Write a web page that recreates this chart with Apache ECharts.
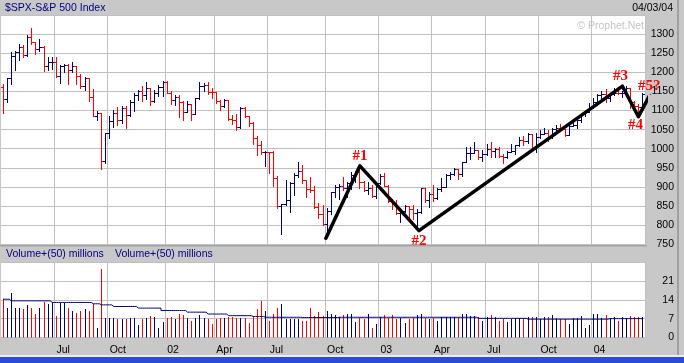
<!DOCTYPE html>
<html><head><meta charset="utf-8">
<script src="https://cdn.jsdelivr.net/npm/echarts@6.0.0/dist/echarts.min.js"></script>
<style>html,body{margin:0;padding:0;background:#c8c8c8;}#c{width:684px;height:363px;}</style>
</head><body><div id="c"></div>
<script>
// ---- categories: Monday of each weekly bar ----
const weeks = [
'2001-04-02','2001-04-09','2001-04-16','2001-04-23','2001-04-30','2001-05-07','2001-05-14','2001-05-21','2001-05-28',
'2001-06-04','2001-06-11','2001-06-18','2001-06-25','2001-07-02','2001-07-09','2001-07-16','2001-07-23','2001-07-30',
'2001-08-06','2001-08-13','2001-08-20','2001-08-27','2001-09-03','2001-09-10','2001-09-17','2001-09-24',
'2001-10-01','2001-10-08','2001-10-15','2001-10-22','2001-10-29','2001-11-05','2001-11-12','2001-11-19','2001-11-26',
'2001-12-03','2001-12-10','2001-12-17','2001-12-24','2001-12-31',
'2002-01-07','2002-01-14','2002-01-21','2002-01-28','2002-02-04','2002-02-11','2002-02-18','2002-02-25',
'2002-03-04','2002-03-11','2002-03-18','2002-03-25','2002-04-01','2002-04-08','2002-04-15','2002-04-22','2002-04-29',
'2002-05-06','2002-05-13','2002-05-20','2002-05-27','2002-06-03','2002-06-10','2002-06-17','2002-06-24',
'2002-07-01','2002-07-08','2002-07-15','2002-07-22','2002-07-29','2002-08-05','2002-08-12','2002-08-19','2002-08-26',
'2002-09-02','2002-09-09','2002-09-16','2002-09-23','2002-09-30','2002-10-07','2002-10-14','2002-10-21','2002-10-28',
'2002-11-04','2002-11-11','2002-11-18','2002-11-25','2002-12-02','2002-12-09','2002-12-16','2002-12-23','2002-12-30',
'2003-01-06','2003-01-13','2003-01-20','2003-01-27','2003-02-03','2003-02-10','2003-02-17','2003-02-24',
'2003-03-03','2003-03-10','2003-03-17','2003-03-24','2003-03-31','2003-04-07','2003-04-14','2003-04-21','2003-04-28',
'2003-05-05','2003-05-12','2003-05-19','2003-05-26','2003-06-02','2003-06-09','2003-06-16','2003-06-23','2003-06-30',
'2003-07-07','2003-07-14','2003-07-21','2003-07-28','2003-08-04','2003-08-11','2003-08-18','2003-08-25',
'2003-09-01','2003-09-08','2003-09-15','2003-09-22','2003-09-29','2003-10-06','2003-10-13','2003-10-20','2003-10-27',
'2003-11-03','2003-11-10','2003-11-17','2003-11-24','2003-12-01','2003-12-08','2003-12-15','2003-12-22','2003-12-29',
'2004-01-05','2004-01-12','2004-01-19','2004-01-26','2004-02-02','2004-02-09','2004-02-16','2004-02-23',
'2004-03-01','2004-03-08','2004-03-15','2004-03-22','2004-03-29'];

// ---- weekly OHLC ----
const opens = [1160.3,1128.4,1183.5,1243.0,1253.1,1266.6,1245.7,1292.0,1277.9,1260.7,
1265.0,1214.4,1225.4,1226.4,1190.6,1215.7,1217.0,1205.8,1214.4,1190.2,
1162.0,1184.9,1133.6,1085.8,1092.5,965.8,1040.9,1071.4,1091.7,1073.5,
1104.6,1087.2,1120.3,1138.7,1150.3,1139.5,1158.3,1123.1,1144.9,1161.0,
1172.5,1145.6,1127.6,1133.3,1122.2,1096.2,1116.5,1089.8,1131.8,1164.3,
1166.2,1148.7,1147.4,1122.7,1111.0,1125.2,1076.3,1073.4,1055.0,1106.6,
1083.8,1067.1,1027.5,1007.3,989.1,989.8,989.0,921.4,847.8,852.8,
864.2,908.6,928.8,940.9,916.1,893.9,889.8,845.4,827.4,800.6,
835.3,884.4,897.7,901.0,894.7,909.8,930.6,936.3,912.2,889.5,
895.8,875.4,908.6,927.6,901.8,861.4,855.7,829.7,834.9,848.2,
841.2,828.9,833.3,895.8,863.5,878.9,868.3,893.6,898.8,930.1,
933.4,944.3,933.2,963.6,987.8,988.6,995.7,976.2,985.7,998.1,
993.3,998.7,980.2,977.6,990.7,993.1,1008.0,1021.4,1018.6,1036.3,
996.9,1029.9,1038.1,1039.3,1028.9,1050.7,1053.2,1050.4,1035.3,1058.2,
1061.5,1074.1,1088.7,1095.9,1108.5,1121.9,1139.8,1141.6,1131.1,1142.8,
1145.8,1144.1,1144.9,1156.9,1120.6,1109.8,1108.1];
const highs = [1169.5,1184.0,1253.7,1255.0,1272.8,1270.0,1296.5,1315.9,1278.0,1287.0,
1267.0,1240.0,1240.0,1240.0,1219.0,1222.0,1222.0,1226.3,1215.0,1194.0,
1186.0,1185.0,1155.0,1096.9,1092.5,1040.9,1084.1,1099.2,1108.0,1112.0,
1110.6,1126.0,1144.0,1152.0,1163.4,1173.0,1158.3,1152.0,1165.0,1176.5,
1176.5,1150.0,1139.0,1139.0,1123.0,1124.0,1117.0,1132.0,1173.0,1170.0,
1174.0,1158.0,1147.8,1126.0,1130.0,1126.0,1088.0,1089.0,1107.0,1108.0,
1085.0,1070.0,1033.0,1018.0,992.0,990.0,993.6,926.0,854.0,916.0,
912.0,935.0,965.0,955.0,916.1,924.0,902.0,856.0,852.0,844.0,
886.0,903.0,905.0,925.0,911.0,938.0,941.0,954.3,915.0,911.0,
903.0,911.0,932.0,935.0,904.0,868.0,864.0,843.0,852.0,848.2,
852.0,841.0,896.0,895.8,885.0,904.0,896.0,922.0,932.0,937.0,
949.0,944.3,965.0,1002.0,1002.0,1015.0,996.0,995.0,1010.0,1015.0,
1000.0,1004.0,985.0,993.0,1011.0,1008.0,1030.0,1032.0,1040.0,1036.5,
1040.0,1048.0,1052.0,1048.0,1054.0,1062.0,1063.0,1050.4,1060.0,1074.0,
1075.0,1091.0,1098.0,1118.0,1131.0,1141.0,1150.0,1155.4,1143.0,1158.9,
1158.9,1151.0,1163.2,1159.0,1125.0,1115.0,1144.0];
const lows = [1092.0,1121.0,1167.4,1205.0,1232.0,1239.0,1241.0,1273.0,1246.0,1255.0,
1203.0,1205.0,1207.0,1188.0,1171.0,1199.0,1168.0,1200.0,1169.0,1157.0,
1153.0,1124.0,1085.0,1073.2,944.8,962.5,1026.8,1056.4,1061.0,1066.0,
1054.3,1084.0,1098.0,1126.0,1125.0,1129.0,1114.5,1121.0,1137.0,1136.2,
1144.0,1117.0,1114.0,1081.7,1074.0,1094.0,1074.0,1089.0,1130.0,1151.0,
1143.0,1131.0,1118.0,1099.0,1108.0,1075.0,1063.0,1048.0,1054.0,1082.0,
1058.0,1012.0,981.6,985.0,952.9,935.0,900.9,842.0,775.7,852.0,
833.4,876.0,925.0,910.0,872.0,884.0,843.0,817.0,798.0,768.6,
828.0,873.0,867.0,891.0,872.0,893.0,911.0,896.0,888.0,880.0,
873.0,869.0,905.0,900.0,860.0,840.0,827.0,806.3,832.0,818.0,
815.0,788.9,830.0,860.0,847.0,862.0,868.0,887.0,898.0,918.0,
929.0,918.0,927.0,963.0,972.0,988.0,972.0,967.0,983.0,978.0,
977.0,977.0,960.0,974.0,990.0,984.0,1005.0,1009.0,1013.0,996.0,
990.0,1027.0,1037.0,1019.0,1027.0,1046.0,1045.0,1031.0,1035.0,1058.0,
1053.0,1068.0,1084.0,1095.0,1106.0,1113.0,1133.0,1122.0,1124.0,1139.0,
1143.0,1134.0,1143.0,1105.0,1103.0,1087.2,1108.0];
const closes = [1128.4,1183.5,1243.0,1253.1,1266.6,1245.7,1292.0,1277.9,1260.7,1265.0,
1214.4,1225.4,1226.4,1190.6,1215.7,1217.0,1205.8,1214.4,1190.2,1162.0,
1184.9,1133.6,1085.8,1092.5,965.8,1040.9,1071.4,1091.7,1073.5,1104.6,
1087.2,1120.3,1138.7,1150.3,1139.5,1158.3,1123.1,1144.9,1161.0,1172.5,
1145.6,1127.6,1133.3,1122.2,1096.2,1116.5,1089.8,1131.8,1164.3,1166.2,
1148.7,1147.4,1122.7,1111.0,1125.2,1076.3,1073.4,1055.0,1106.6,1083.8,
1067.1,1027.5,1007.3,989.1,989.8,989.0,921.4,847.8,852.8,864.2,
908.6,928.8,940.9,916.1,893.9,889.8,845.4,827.4,800.6,835.3,
884.4,897.7,901.0,894.7,909.8,930.6,936.3,912.2,889.5,895.8,
875.4,908.6,927.6,901.8,861.4,855.7,829.7,834.9,848.2,841.2,
828.9,833.3,895.8,863.5,878.9,868.3,893.6,898.8,930.1,933.4,
944.3,933.2,963.6,987.8,988.6,995.7,976.2,985.7,998.1,993.3,
998.7,980.2,977.6,990.7,993.1,1008.0,1021.4,1018.6,1036.3,996.9,
1029.9,1038.1,1039.3,1028.9,1050.7,1053.2,1050.4,1035.3,1058.2,1061.5,
1074.1,1088.7,1095.9,1108.5,1121.9,1139.8,1141.6,1131.1,1142.8,1145.8,
1144.1,1144.9,1156.9,1120.6,1109.8,1108.1,1141.8];

// ---- weekly volume and its 50-week average ----
const volumes = [14.2,10.6,16.4,10.6,10.9,10.5,11.7,10.6,8.7,10.6,
13.0,12.1,13.0,7.8,12.7,12.7,10.9,9.6,8.9,9.7,
10.2,9.6,12.4,3.2,25.1,7.1,7.1,6.9,6.5,6.8,
6.5,6.9,6.9,4.3,6.5,7.0,7.8,7.5,3.5,5.5,
7.1,7.4,6.8,8.4,8.1,6.9,5.9,7.1,8.0,6.9,
6.5,5.0,6.5,7.0,7.0,7.3,7.3,7.0,7.0,7.0,
5.3,7.8,10.2,13.3,9.6,5.8,8.4,10.9,12.1,6.8,
6.8,6.8,6.8,5.8,5.8,10.9,7.8,9.2,7.8,9.6,
8.4,8.0,7.4,8.0,8.4,8.4,5.5,7.1,6.5,8.4,
3.4,5.0,7.4,8.0,7.1,8.0,6.5,7.1,5.3,6.5,
7.1,8.0,8.4,7.0,6.5,7.0,5.9,7.5,7.5,7.5,
7.5,7.5,8.7,8.7,7.8,7.8,7.5,5.9,7.5,8.0,
7.5,5.9,6.8,5.5,6.5,7.0,7.0,7.0,7.4,7.5,
7.5,6.5,7.5,7.5,8.0,7.0,6.5,6.5,4.7,7.0,
7.0,7.8,3.5,4.5,8.7,8.4,7.0,8.3,7.0,7.5,
6.1,7.5,7.0,7.8,7.5,7.5,7.5];
const volMA = [14.2,14.2,13.6,13.6,13.6,13.6,13.6,13.6,13.6,13.6,
13.6,13.6,13.0,13.0,13.0,13.0,13.0,13.0,13.0,13.0,
13.0,13.0,12.5,12.5,12.1,12.1,12.1,11.5,11.5,11.5,
11.5,11.5,11.5,10.9,10.9,10.9,10.9,10.9,10.9,10.0,
10.0,10.0,10.0,10.0,10.0,9.4,9.4,9.4,9.4,9.4,
8.7,8.7,8.7,8.7,8.7,8.1,8.1,8.1,8.1,8.1,
8.1,7.8,7.8,7.8,7.5,7.5,7.5,7.5,7.5,7.5,
7.5,7.5,7.5,7.4,7.4,7.4,7.4,7.4,7.4,7.4,
7.4,7.4,7.5,7.5,7.5,7.5,7.5,7.5,7.5,7.5,
7.5,7.5,7.5,7.5,7.5,7.5,7.5,7.5,7.5,7.5,
7.5,7.5,7.5,7.5,7.5,7.5,7.5,7.5,7.5,7.5,
7.5,7.5,7.5,7.5,7.5,7.5,7.1,7.1,7.1,7.1,
7.1,7.1,7.1,7.1,7.1,7.1,7.1,7.1,6.8,6.8,
6.8,6.8,6.8,6.8,6.8,6.8,6.8,6.8,6.8,6.8,
6.8,6.8,6.8,6.8,6.8,6.8,6.8,6.8,7.0,7.0,
7.0,7.0,7.0,7.0,7.0,7.0,7.0];

// ---- quarter ticks ----
const tickWeeks = ['2001-07-02','2001-10-01','2002-01-07','2002-04-01','2002-07-01','2002-10-07',
                   '2003-01-06','2003-04-07','2003-07-07','2003-10-06','2004-01-05'];
const tickLabels = ['Jul','Oct','02','Apr','Jul','Oct','03','Apr','Jul','Oct','04'];

// ---- hand-drawn wave count (week position, price) ----
const waveX = [78.7, 87.0, 101.4, 151.0, 154.9, 157.8];
const waveY = [765, 955, 785, 1164, 1084, 1143];
const waveLabels = ['', '#1', '#2', '#3', '#4', '#5?'];

// ================= drawing =================
const UP = '#000070', DN = '#ff0000', GRIDC = '#c0c0c0';
const FONT = '"Liberation Sans", Arial, sans-serif';
const upFlags = closes.map((c, i) => (i === 0 ? c >= opens[0] : c >= closes[i - 1]) ? 1 : 0);
const tickIdx = new Set(tickWeeks.map(w => weeks.indexOf(w)));
const labelOf = {}; tickWeeks.forEach((w, k) => { labelOf[w] = tickLabels[k]; });
const isTick = (idx) => tickIdx.has(idx);

const labelStyle = [
  null,
  {position: 'top', distance: 2},
  {position: 'bottom', distance: 2},
  {position: 'top', distance: 2, offset: [-2, 0]},
  {position: 'bottom', distance: 0, offset: [-3, 0]},
  {position: 'top', distance: 0, offset: [-1, 0]}
];

function renderOHLC(params, api) {
  const i = api.value(0);
  const pH = api.coord([i, api.value(2)]);
  const pL = api.coord([i, api.value(3)]);
  const pO = api.coord([i, api.value(1)]);
  const pC = api.coord([i, api.value(4)]);
  const x = Math.floor(pH[0]) + 0.5;
  const yo = Math.floor(pO[1]) + 0.5, yc = Math.floor(pC[1]) + 0.5;
  const st = {stroke: api.value(5) ? UP : DN, lineWidth: 1};
  return {type: 'group', children: [
    {type: 'line', shape: {x1: x, y1: Math.floor(pH[1]), x2: x, y2: Math.floor(pL[1]) + 1}, style: st},
    {type: 'line', shape: {x1: x - 2.5, y1: yo, x2: x - 0.5, y2: yo}, style: st},
    {type: 'line', shape: {x1: x + 0.5, y1: yc, x2: x + 2.5, y2: yc}, style: st}
  ]};
}
function renderVol(params, api) {
  const i = api.value(0);
  const top = api.coord([i, api.value(1)]);
  const base = api.coord([i, 0]);
  const x = Math.floor(top[0]) + 0.5;
  return {type: 'line', shape: {x1: x, y1: Math.floor(top[1]), x2: x, y2: base[1]},
          style: {stroke: api.value(2) ? UP : DN, lineWidth: 1}};
}

const GL = 1, GR = 39;
const catAxis = (gi, showLabels) => ({
  type: 'category', gridIndex: gi, data: weeks, boundaryGap: true,
  axisLine: {show: false}, axisTick: {show: false},
  axisLabel: {show: showLabels, interval: isTick, formatter: v => labelOf[v] || '',
              align: 'left', color: '#000', fontSize: 10.5, fontFamily: FONT, margin: 7},
  splitLine: {show: true, interval: isTick, lineStyle: {color: GRIDC, width: 1}}
});
const plainNum = v => String(v);

const chart = echarts.init(document.getElementById('c'), null, {renderer: 'canvas'});
chart.setOption({
  animation: false,
  backgroundColor: '#c8c8c8',
  textStyle: {fontFamily: FONT},
  grid: [
    {left: GL, right: GR, top: 15.3, height: 228.7, show: true, backgroundColor: '#ffffff', borderWidth: 0, outerBoundsMode: 'none', containLabel: false},
    {left: GL, right: GR, top: 262, height: 75.5, show: true, backgroundColor: '#ffffff', borderWidth: 0, outerBoundsMode: 'none', containLabel: false}
  ],
  xAxis: [
    catAxis(0, false),
    {type: 'value', gridIndex: 0, min: -0.5, max: weeks.length - 0.5, show: false},
    catAxis(1, true)
  ],
  yAxis: [
    {type: 'value', gridIndex: 0, min: 750, max: 1350, interval: 50, position: 'right',
     axisLine: {show: false}, axisTick: {show: false},
     axisLabel: {align: 'right', margin: 29, color: '#000', fontSize: 10.5, fontFamily: FONT, showMaxLabel: false, formatter: plainNum},
     splitLine: {show: true, lineStyle: {color: GRIDC, width: 1}}},
    {type: 'value', gridIndex: 1, min: 0, max: 28, interval: 7, position: 'right',
     axisLine: {show: false}, axisTick: {show: false},
     axisLabel: {align: 'right', margin: 29, color: '#000', fontSize: 10.5, fontFamily: FONT, showMaxLabel: false, formatter: plainNum},
     splitLine: {show: true, lineStyle: {color: GRIDC, width: 1}}}
  ],
  series: [
    {type: 'custom', name: 'SPX', xAxisIndex: 0, yAxisIndex: 0, z: 3,
     data: weeks.map((w, i) => [i, opens[i], highs[i], lows[i], closes[i], upFlags[i]]),
     encode: {x: 0, y: [1, 2, 3, 4]}, renderItem: renderOHLC},
    {type: 'line', name: 'Wave', xAxisIndex: 1, yAxisIndex: 0, z: 5, clip: false,
     symbol: 'circle', symbolSize: 1, showSymbol: true, itemStyle: {color: '#000'},
     lineStyle: {color: '#000', width: 3.5, join: 'round', cap: 'round'},
     data: waveX.map((x, k) => {
       const d = {value: [x, waveY[k]]};
       if (waveLabels[k]) {
         d.label = Object.assign({show: true, formatter: waveLabels[k], color: '#ff0000',
           fontFamily: '"Liberation Serif", "Times New Roman", serif', fontWeight: 'bold', fontSize: 15}, labelStyle[k]);
       }
       return d;
     })},
    {type: 'custom', name: 'Volume', xAxisIndex: 2, yAxisIndex: 1, z: 3,
     data: weeks.map((w, i) => [i, volumes[i], upFlags[i]]),
     encode: {x: 0, y: 1}, renderItem: renderVol},
    {type: 'line', name: 'Volume MA', xAxisIndex: 2, yAxisIndex: 1, z: 4, step: 'middle',
     symbol: 'none', lineStyle: {color: UP, width: 1}, data: volMA}
  ],
  graphic: [
    {type: 'text', x: 5, y: 8.5, silent: true, style: {text: '$SPX-S&P 500 Index', fill: '#000080', font: '10.5px ' + FONT, align: 'left', verticalAlign: 'middle'}},
    {type: 'text', x: 673, y: 8.5, silent: true, style: {text: '04/03/04', fill: '#000', font: '10.5px ' + FONT, align: 'right', verticalAlign: 'middle'}},
    {type: 'text', x: 644, y: 26.5, silent: true, z: 1, style: {text: '\u00a9 Prophet.Net', fill: '#c4c4c4', font: '10.5px ' + FONT, align: 'right', verticalAlign: 'middle'}},
    {type: 'text', x: 6, y: 254.5, silent: true, style: {text: 'Volume+(50) millions', fill: '#000080', font: '10.5px ' + FONT, align: 'left', verticalAlign: 'middle'}},
    {type: 'text', x: 115, y: 254.5, silent: true, style: {text: 'Volume+(50) millions', fill: '#000080', font: '10.5px ' + FONT, align: 'left', verticalAlign: 'middle'}},
    {type: 'rect', silent: true, shape: {x: 0, y: 245, width: 647, height: 1.5}, style: {fill: '#a4a4a4'}},
    {type: 'rect', silent: true, shape: {x: 677, y: 0, width: 2, height: 355}, style: {fill: '#a0a0a0'}},
    {type: 'rect', silent: true, shape: {x: 0, y: 355, width: 684, height: 2}, style: {fill: '#eeeeee'}},
    {type: 'rect', silent: true, shape: {x: 0, y: 357, width: 684, height: 6}, style: {fill: '#2a4bd7'}}
  ]
});
</script></body></html>
